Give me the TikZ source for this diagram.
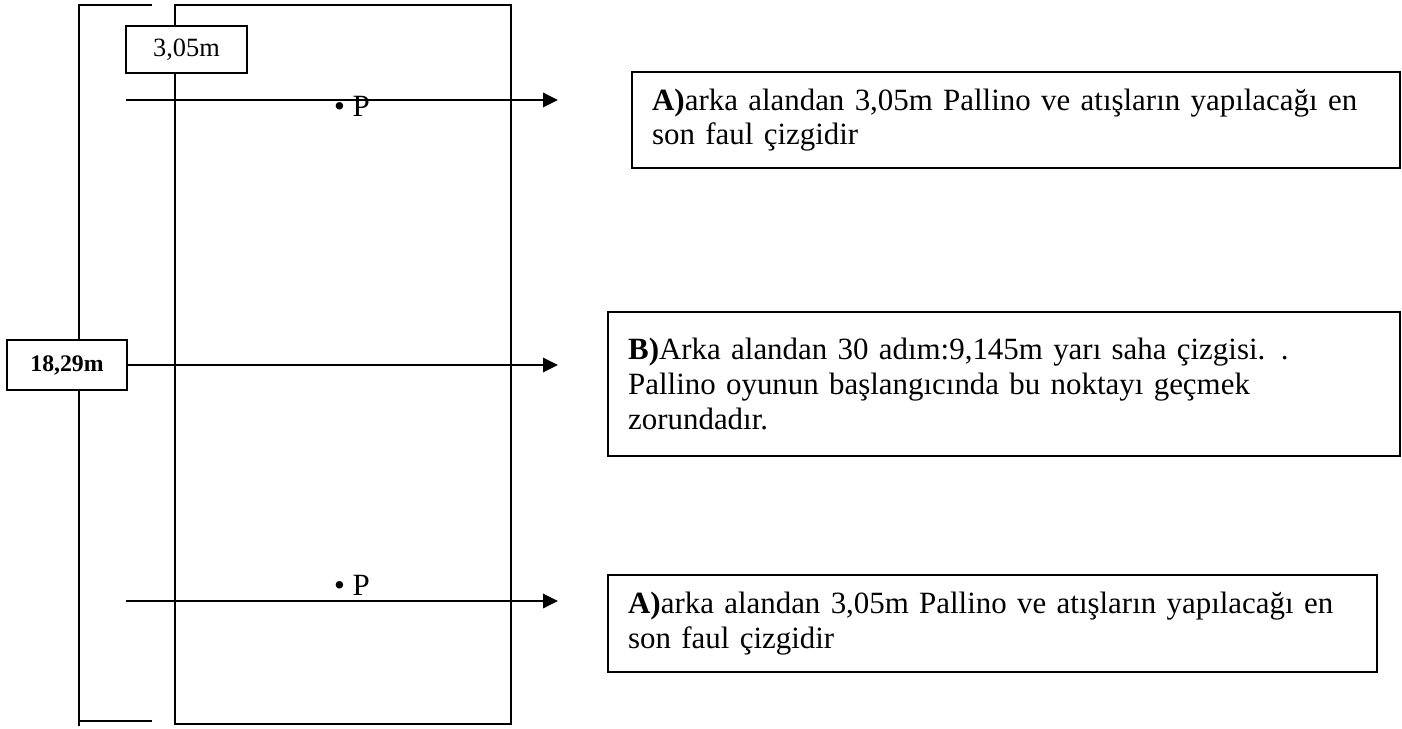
\documentclass[tikz,border=0pt]{standalone}
\usepackage{fontspec}
\setmainfont{Liberation Serif}
\usetikzlibrary{arrows.meta}

\begin{document}
\begin{tikzpicture}[x=0.02cm, y=-0.02cm,
    line/.style={line width=1.3pt},
    pointer/.style={line width=1.7pt, -{Triangle[length=8.5pt,width=8pt]}},
    size/.style={draw, line width=1.3pt, fill=white, inner sep=0pt},
    note/.style={draw, line width=1.3pt, anchor=north west, align=left,
        inner xsep=0.4cm, inner ysep=0pt, font=\fontsize{17.6}{19.8}\selectfont},
    ball/.style={anchor=base, inner sep=0pt, font=\fontsize{17.6}{19.8}\selectfont}]
            \useasboundingbox (0,0) rectangle (1402,729);

            % Court and length bracket
            \draw[line] (175,5) rectangle (511,724);
            \draw[line] (152,5) -- (79,5) -- (79,726);
            \draw[line] (79,721) -- (152,721);

            % Sizes
            \node[size, minimum width=2.42cm, minimum height=0.94cm, font=\fontsize{15}{17}\selectfont] (foul) at (186.5,49.5) {3,05m};
            \node[size, minimum width=2.4cm, minimum height=1cm, font=\fontsize{13.5}{16}\selectfont\bfseries] (full) at (67,365) {18,29m};

            % Pallino
            \node[ball] (p1) at (352,117) {\textbullet\ P};
            \node[ball] (p2) at (352,595) {\textbullet\ P};

            % Notes
            \node[note, text width=14.56cm, minimum height=1.92cm] (n1) at (631,71)
                {\textbf{A)}arka alandan 3,05m Pallino ve atışların yapılacağı en\\son faul çizgidir};
            \node[note, text width=15.04cm, minimum height=2.88cm] (n2) at (607,311)
                {\textbf{B)}Arka alandan 30 adım:9,145m yarı saha çizgisi. .\\Pallino oyunun başlangıcında bu noktayı geçmek\\zorundadır.};
            \node[note, text width=14.58cm, minimum height=1.94cm] (n3) at (607,574)
                {\textbf{A)}arka alandan 3,05m Pallino ve atışların yapılacağı en\\son faul çizgidir};

            % Lines
            \coordinate (a1) at (126,100);
            \coordinate (t1) at (558,100);
            \coordinate (t2) at (558,365);
            \coordinate (a3) at (126,601);
            \coordinate (t3) at (558,601);
            \draw[pointer] (a1) -- (t1);
            \draw[pointer] (full.east) -- (t2);
            \draw[pointer] (a3) -- (t3);

        \end{tikzpicture}
\end{document}
